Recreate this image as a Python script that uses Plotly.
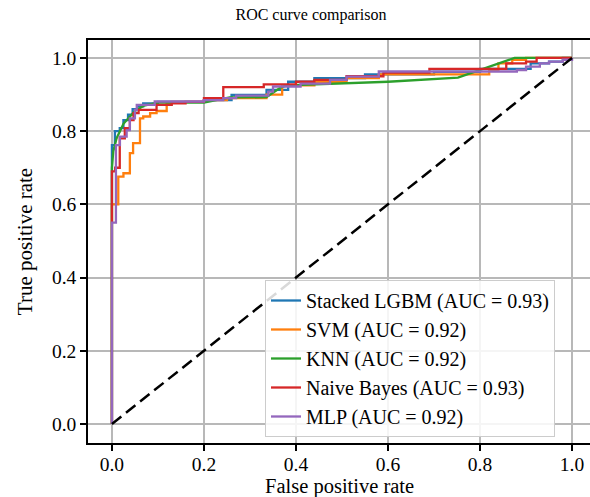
import plotly.graph_objects as go

# ---- data ----
lgbm_fpr = [0, 0, 0.0065, 0.017, 0.025, 0.035, 0.045, 0.055, 0.068, 0.10, 0.20, 0.26, 0.336, 0.383, 0.44, 0.55, 0.70, 0.80, 0.91, 0.95, 0.98, 1.0]
lgbm_tpr = [0, 0.762, 0.80, 0.808, 0.83, 0.845, 0.86, 0.868, 0.876, 0.88, 0.885, 0.899, 0.913, 0.935, 0.945, 0.955, 0.962, 0.97, 0.985, 0.99, 1.0, 1.0]

svm_fpr = [0, 0, 0.0138, 0.025, 0.039, 0.046, 0.061, 0.068, 0.083, 0.097, 0.119, 0.13, 0.20, 0.25, 0.336, 0.37, 0.44, 0.51, 0.58, 0.82, 0.84, 0.87, 0.90, 1.0]
svm_tpr = [0, 0.60, 0.676, 0.685, 0.74, 0.767, 0.835, 0.84, 0.849, 0.855, 0.876, 0.88, 0.885, 0.89, 0.90, 0.925, 0.935, 0.945, 0.955, 0.965, 0.985, 0.995, 1.0, 1.0]

knn_fpr = [0, 0, 0.003, 0.01, 0.025, 0.05, 0.07, 0.10, 0.20, 0.235, 0.256, 0.336, 0.365, 0.38, 0.52, 0.60, 0.752, 0.80, 0.875, 1.0]
knn_tpr = [0, 0.70, 0.745, 0.78, 0.82, 0.855, 0.87, 0.878, 0.878, 0.886, 0.892, 0.893, 0.918, 0.925, 0.931, 0.935, 0.946, 0.967, 1.0, 1.0]

nb_fpr = [0, 0, 0.007, 0.017, 0.028, 0.039, 0.047, 0.058, 0.097, 0.13, 0.16, 0.20, 0.242, 0.33, 0.40, 0.44, 0.51, 0.59, 0.69, 0.857, 0.90, 0.923, 1.0]
nb_tpr = [0, 0.69, 0.70, 0.78, 0.808, 0.83, 0.849, 0.858, 0.872, 0.876, 0.88, 0.89, 0.92, 0.928, 0.935, 0.94, 0.95, 0.96, 0.97, 0.985, 0.99, 1.0, 1.0]

mlp_fpr = [0, 0, 0.0087, 0.0174, 0.032, 0.039, 0.05, 0.054, 0.093, 0.20, 0.242, 0.27, 0.34, 0.35, 0.41, 0.474, 0.51, 0.58, 0.88, 0.90, 0.93, 0.95, 0.98, 1.0]
mlp_tpr = [0, 0.55, 0.762, 0.785, 0.803, 0.835, 0.858, 0.872, 0.881, 0.885, 0.89, 0.897, 0.908, 0.922, 0.93, 0.94, 0.949, 0.963, 0.967, 0.976, 0.985, 0.99, 0.995, 1.0]

chance = [0, 1]
x_ticks = [0.0, 0.2, 0.4, 0.6, 0.8, 1.0]
y_ticks = [0.0, 0.2, 0.4, 0.6, 0.8, 1.0]

series = [
    ("Stacked LGBM (AUC = 0.93)", lgbm_fpr, lgbm_tpr, "#1f77b4", "hv"),
    ("SVM (AUC = 0.92)", svm_fpr, svm_tpr, "#ff7f0e", "hv"),
    ("KNN (AUC = 0.92)", knn_fpr, knn_tpr, "#2ca02c", "linear"),
    ("Naive Bayes (AUC = 0.93)", nb_fpr, nb_tpr, "#d62728", "hv"),
    ("MLP (AUC = 0.92)", mlp_fpr, mlp_tpr, "#9467bd", "hv"),
]

FONT = "Liberation Serif, Times New Roman, serif"
fig = go.Figure()
for name, fx, ty, col, shape in series:
    fig.add_trace(go.Scatter(x=fx, y=ty, mode="lines", name=name,
                             line=dict(color=col, width=2.3, shape=shape)))
fig.add_trace(go.Scatter(x=chance, y=chance, mode="lines", showlegend=False,
                         line=dict(color="black", width=2.5, dash="12px,6px")))

fig.update_layout(
    width=590, height=497,
    margin=dict(l=88, r=0, t=40, b=54),
    paper_bgcolor="white", plot_bgcolor="white",
    font=dict(family=FONT, size=20, color="black"),
    title=dict(text="ROC curve comparison", x=311/590, xref="container", xanchor="center",
               y=1 - 14/497, yref="container", yanchor="middle",
               font=dict(family=FONT, size=16, color="black")),
    legend=dict(x=(265-88)/502, y=(443-280)/403, xanchor="left", yanchor="top",
                bgcolor="rgba(255,255,255,0.85)", bordercolor="#cccccc", borderwidth=1,
                font=dict(family=FONT, size=20, color="black"), tracegroupgap=0),
    showlegend=True,
    annotations=[dict(text="False positive rate", xref="paper", yref="paper",
                      x=0.5, y=(443-487)/403, xanchor="center", yanchor="middle",
                      showarrow=False, font=dict(family=FONT, size=20.5, color="black"))],
)
fig.update_xaxes(range=[-0.052, 1.039], tickvals=x_ticks, tickformat=".1f",
                 ticks="outside", ticklen=6, tickwidth=1.5, tickcolor="black",
                 showline=True, linecolor="black", linewidth=1.5, mirror=True,
                 showgrid=True, gridcolor="#b8b8b8", gridwidth=1.5, zeroline=False,
                 automargin=False, ticklabelstandoff=-3,
                 tickfont=dict(family=FONT, size=19.5))
fig.update_yaxes(range=[-0.052, 1.049], tickvals=y_ticks, tickformat=".1f",
                 ticks="outside", ticklen=6, tickwidth=1.5, tickcolor="black",
                 showline=True, linecolor="black", linewidth=1.5, mirror=False,
                 showgrid=True, gridcolor="#b8b8b8", gridwidth=1.5, zeroline=False,
                 automargin=False,
                 title=dict(text="True positive rate", font=dict(family=FONT, size=21), standoff=14),
                 tickfont=dict(family=FONT, size=19.5))

fig.write_html("out.html")
